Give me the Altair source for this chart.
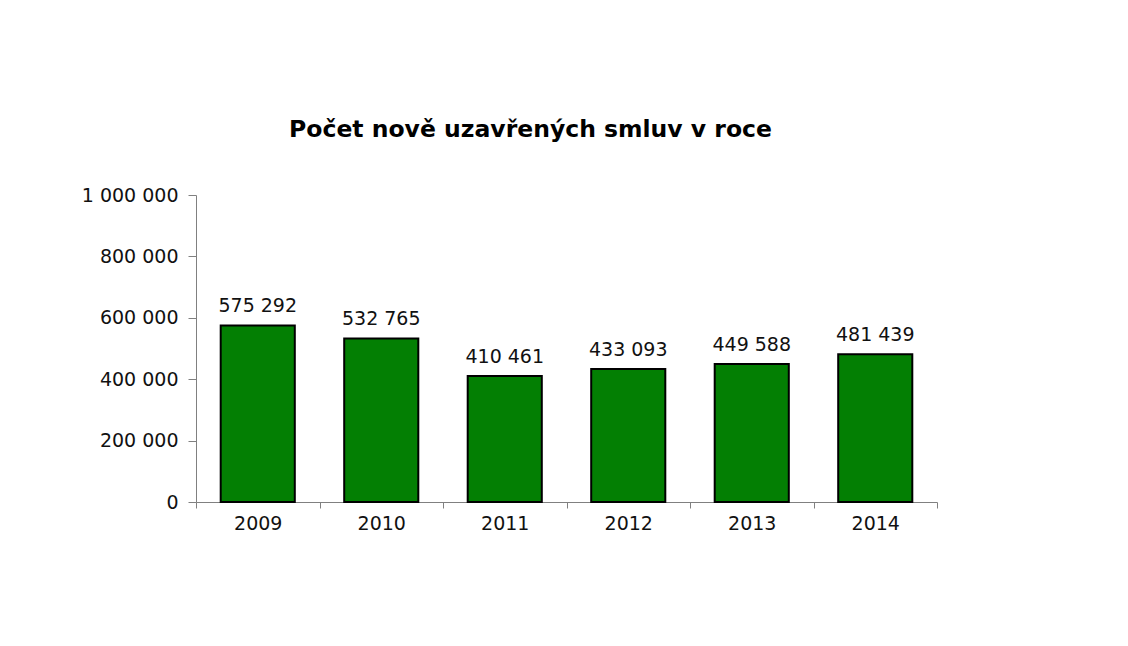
import altair as alt
import pandas as pd

years = ["2009", "2010", "2011", "2012", "2013", "2014"]
values = [575292, 532765, 410461, 433093, 449588, 481439]
labels = ["575 292", "532 765", "410 461", "433 093", "449 588", "481 439"]

df = pd.DataFrame({"rok": years, "pocet": values, "label": labels})

FONT = "DejaVu Sans"

base = alt.Chart(df).encode(
    x=alt.X(
        "rok:N",
        title=None,
        sort=years,
        scale=alt.Scale(paddingInner=0, paddingOuter=0),
        axis=alt.Axis(
            labelAngle=0,
            tickBand="extent",
            tickSize=6,
            labelPadding=6,
            labelFontSize=19,
            labelFont=FONT,
            labelColor="#111111",
            domainColor="#808080",
            tickColor="#808080",
        ),
    ),
    y=alt.Y(
        "pocet:Q",
        title=None,
        scale=alt.Scale(domain=[0, 1000000]),
        axis=alt.Axis(
            values=[0, 200000, 400000, 600000, 800000, 1000000],
            labelExpr="replace(format(datum.value, ',d'), regexp(',', 'g'), ' ')",
            grid=False,
            tickSize=8,
            labelPadding=10,
            labelFontSize=19,
            labelFont=FONT,
            labelColor="#111111",
            domainColor="#808080",
            tickColor="#808080",
        ),
    ),
)

bars = base.mark_bar(
    color="#037f03", stroke="#000000", strokeWidth=2,
    width=alt.RelativeBandSize(0.6),
)

text = base.mark_text(
    baseline="alphabetic", dy=-13, fontSize=19, font=FONT, color="#111111"
).encode(text="label:N")

chart = (
    (bars + text)
    .properties(
        width=741,
        height=307,
        padding={"left": 188, "top": 187, "right": 180, "bottom": 130},
        autosize=alt.AutoSizeParams(type="none"),
        title=alt.TitleParams(
            "Počet nově uzavřených smluv v roce",
            font=FONT,
            fontSize=23.5,
            fontWeight="bold",
            color="#000000",
            anchor="middle",
            frame="group",
            baseline="alphabetic",
            offset=26,
            dx=-36,
        ),
    )
    .configure_view(stroke=None)
)

chart.save("out.html", embed_options={"renderer": "svg", "actions": False})
